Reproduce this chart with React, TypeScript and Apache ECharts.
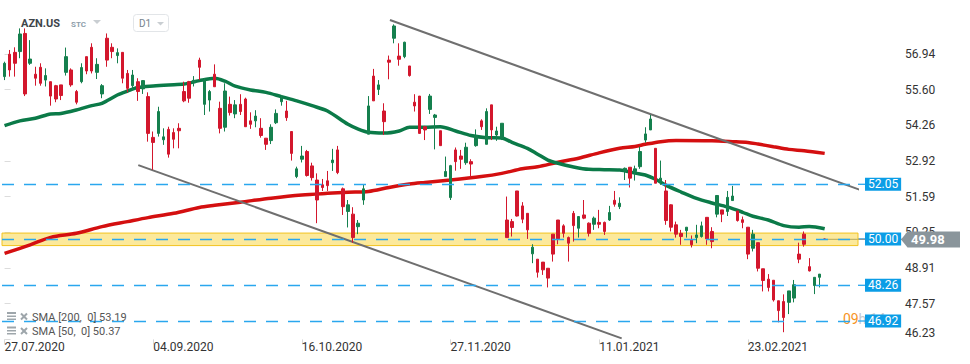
import React, { useEffect, useRef } from 'react';
import * as echarts from 'echarts';

// ---------- data ----------
const HOLIDAYS = ['2020-09-07', '2020-11-26', '2020-12-25', '2021-01-01', '2021-01-18', '2021-02-15'];
const BAR_SLOTS = 167;

const tickLabels = ['27.07.2020', '04.09.2020', '16.10.2020', '27.11.2020', '11.01.2021', '23.02.2021'];
const yTickValues = [46.23, 47.57, 48.91, 50.25, 51.59, 52.92, 54.26, 55.6, 56.94];

const opens = [
  56.09, 56.93, 57.0, 57.03, 57.71, 56.59, 56.18, 56.44, 55.96, 55.9,
  55.75, 55.78, 56.25, 56.34, 55.53, 55.9, 56.84, 57.19, 56.25, 55.44,
  57.53, 57.19, 56.88, 57.0, 56.21, 55.75, 55.9, 55.63, 55.34, 53.81,
  53.96, 53.72, 54.11, 53.99, 54.15, 55.53, 55.9, 55.86, 56.71, 55.05,
  55.21, 56.18, 54.9, 54.19, 55.05, 54.69, 55.05, 55.25, 54.43, 54.43,
  54.15, 53.78, 53.69, 54.36, 55.15, 54.8, 54.03, 52.34, 52.99, 53.28,
  52.74, 52.21, 52.03, 52.18, 52.86, 53.34, 51.88, 51.03, 50.93, 50.46,
  51.46, 53.93, 56.11, 55.61, 54.8, 56.71, 57.53, 56.86, 56.84, 56.49,
  55.13, 55.36, 54.21, 54.86, 54.56, 54.06, 52.34, 51.55, 53.34, 53.11,
  52.86, 52.9, 53.5, 54.43, 53.55, 55.03, 53.9, 53.78, 50.71, 50.65,
  51.8, 51.24, 50.96, 49.44, 49.24, 49.13, 48.9, 50.18, 50.71, 50.49,
  50.05, 50.96, 50.4, 50.9, 50.59, 50.55, 50.62, 50.62, 50.71, 51.45,
  51.21, 52.53, 52.69, 52.53, 52.71, 53.71, 54.09, 53.4, 52.15, 51.8,
  51.28, 50.53, 50.21, 50.31, 49.96, 50.05, 50.09, 50.81, 50.28, 50.93,
  51.09, 51.03, 51.44, 51.05, 50.72, 50.44, 49.65, 49.86, 48.88, 48.49,
  48.45, 47.68, 47.65, 47.62, 47.78, 49.43, 50.18, 48.96, 48.25, 48.56,
  50.0,
];
const closes = [
  56.59, 56.34, 56.59, 57.69, 55.44, 56.75, 56.03, 55.84, 56.13, 55.36,
  55.25, 55.38, 56.84, 55.78, 55.13, 56.43, 56.3, 56.3, 56.55, 55.75,
  56.71, 57.03, 56.99, 56.03, 55.65, 56.15, 55.53, 55.94, 53.96, 53.62,
  54.78, 53.83, 53.18, 53.74, 54.06, 55.18, 55.28, 55.95, 56.44, 55.96,
  55.53, 55.71, 54.15, 55.55, 54.74, 55.03, 54.78, 54.21, 54.3, 54.61,
  53.88, 53.55, 54.19, 54.71, 55.3, 54.55, 53.21, 52.63, 53.11, 52.38,
  52.3, 51.46, 51.93, 52.0, 52.96, 52.49, 51.21, 51.28, 50.05, 50.59,
  51.88, 54.99, 55.18, 55.78, 54.4, 56.63, 57.99, 56.74, 57.38, 56.13,
  54.99, 53.96, 54.09, 55.36, 54.65, 53.5, 52.53, 52.75, 52.9, 52.99,
  53.44, 52.81, 53.88, 54.21, 54.78, 54.09, 54.05, 54.34, 50.05, 50.43,
  50.86, 50.74, 50.34, 49.69, 48.75, 48.84, 48.53, 49.43, 50.0, 50.21,
  49.84, 50.5, 50.84, 50.78, 50.21, 50.78, 50.55, 50.28, 50.99, 51.3,
  51.34, 52.65, 52.28, 52.63, 53.28, 53.94, 54.5, 52.09, 52.28, 50.69,
  50.44, 50.18, 50.09, 50.44, 49.78, 50.15, 50.49, 50.0, 49.9, 51.63,
  50.93, 51.56, 51.61, 50.69, 50.62, 49.43, 50.18, 48.9, 48.44, 48.18,
  47.71, 47.31, 47.05, 48.05, 48.28, 49.24, 49.8, 48.8, 48.56, 48.68,
  49.98,
];
const lows = [
  55.96, 56.09, 56.09, 56.78, 55.36, 56.53, 55.75, 55.75, 55.72, 55.0,
  55.13, 55.21, 56.13, 55.71, 55.05, 55.84, 56.18, 56.21, 56.0, 55.28,
  56.46, 56.78, 56.59, 55.84, 55.5, 55.59, 55.18, 55.44, 53.65, 52.59,
  53.84, 53.53, 53.05, 53.4, 53.4, 55.13, 55.11, 55.72, 55.96, 54.65,
  54.78, 55.71, 53.96, 54.03, 54.63, 54.53, 54.65, 54.21, 54.13, 54.19,
  53.8, 53.34, 53.56, 54.31, 55.0, 54.43, 52.94, 52.28, 52.87, 52.34,
  52.19, 50.59, 51.8, 51.8, 52.55, 52.43, 50.9, 50.43, 49.86, 50.18,
  51.28, 53.93, 55.18, 55.4, 53.9, 55.99, 57.34, 56.5, 56.78, 56.09,
  54.78, 53.94, 53.71, 54.69, 53.36, 53.5, 52.34, 51.46, 52.56, 52.63,
  52.78, 52.31, 53.46, 54.09, 53.55, 53.71, 53.68, 53.71, 50.05, 50.09,
  50.84, 50.59, 50.0, 49.09, 48.55, 48.65, 48.18, 49.15, 49.8, 50.05,
  49.15, 49.9, 50.05, 50.74, 50.09, 50.34, 50.4, 50.15, 50.68, 51.21,
  51.12, 52.21, 51.93, 52.19, 52.63, 53.61, 54.09, 52.09, 52.03, 50.53,
  50.28, 50.05, 49.78, 50.05, 49.68, 49.84, 50.05, 49.78, 49.65, 50.81,
  50.63, 50.86, 51.44, 50.65, 50.4, 49.24, 49.53, 48.78, 48.03, 48.03,
  47.65, 46.87, 46.5, 47.18, 47.62, 49.09, 49.71, 48.78, 47.93, 48.18,
  49.96,
];
const highs = [
  56.65, 57.09, 57.19, 57.9, 57.9, 57.46, 56.46, 56.59, 56.4, 55.9,
  55.78, 55.78, 57.18, 56.4, 55.59, 56.59, 56.84, 57.34, 56.78, 55.81,
  57.71, 57.34, 57.15, 57.0, 56.34, 56.34, 56.03, 55.96, 55.5, 54.03,
  54.96, 54.15, 54.21, 54.15, 54.34, 55.9, 55.93, 56.11, 56.8, 56.03,
  55.59, 56.55, 55.15, 55.84, 55.34, 55.21, 55.43, 55.3, 54.75, 54.83,
  54.53, 53.78, 54.3, 54.86, 55.4, 55.18, 54.03, 52.71, 53.49, 53.34,
  52.86, 52.46, 52.25, 52.55, 53.38, 53.49, 51.93, 51.46, 51.19, 50.71,
  52.05, 55.36, 56.38, 55.96, 55.09, 56.88, 58.05, 57.34, 57.4, 56.49,
  55.43, 55.36, 54.24, 55.44, 54.69, 54.06, 53.09, 52.78, 53.43, 53.34,
  53.61, 52.99, 54.11, 54.49, 54.9, 55.03, 54.21, 54.34, 51.59, 50.75,
  51.8, 51.38, 50.96, 49.8, 49.24, 49.13, 48.9, 50.18, 50.71, 50.55,
  50.09, 51.05, 50.86, 51.46, 50.62, 50.84, 51.09, 50.65, 51.24, 51.8,
  51.56, 52.68, 52.69, 52.75, 53.46, 54.19, 54.65, 53.4, 52.94, 52.21,
  51.3, 50.65, 50.34, 50.44, 50.13, 50.53, 50.65, 50.81, 50.44, 51.63,
  51.09, 51.8, 51.99, 51.05, 50.84, 50.44, 50.34, 49.86, 48.88, 48.68,
  48.45, 47.68, 47.92, 48.05, 48.46, 49.86, 50.28, 49.28, 48.56, 48.68,
  50.02,
];

// SMA readings (bar index, value)
const sma200Idx = [0, 5, 9, 14, 19, 24, 28, 33, 38, 41, 46, 52, 58, 63, 67, 71, 75, 79, 82, 87, 93, 97, 101, 104, 108, 112, 116, 120, 123, 125, 128, 131, 138, 142, 145, 147, 150, 153, 156, 160];
const sma200Val = [49.46, 49.78, 50.06, 50.21, 50.46, 50.65, 50.8, 50.96, 51.18, 51.26, 51.38, 51.53, 51.65, 51.71, 51.75, 51.78, 51.93, 52.06, 52.12, 52.21, 52.34, 52.46, 52.63, 52.71, 52.88, 53.03, 53.23, 53.4, 53.47, 53.55, 53.65, 53.69, 53.68, 53.65, 53.62, 53.56, 53.46, 53.36, 53.31, 53.21];
const sma50Idx = [0, 3, 6, 9, 11, 14, 17, 19, 22, 24, 26, 29, 32, 35, 38, 41, 43, 45, 48, 51, 54, 57, 60, 63, 67, 69, 71, 74, 77, 79, 82, 85, 88, 91, 94, 97, 99, 102, 104, 106, 108, 111, 114, 117, 120, 123, 125, 127, 129, 132, 135, 138, 141, 144, 146, 149, 152, 155, 157, 160];
const sma50Val = [54.25, 54.43, 54.53, 54.69, 54.71, 54.84, 55.0, 55.09, 55.4, 55.55, 55.68, 55.74, 55.78, 55.81, 55.94, 56.03, 55.92, 55.73, 55.59, 55.5, 55.34, 55.18, 55.0, 54.8, 54.3, 54.12, 54.0, 53.97, 54.05, 54.19, 54.19, 54.21, 54.05, 53.88, 53.8, 53.79, 53.62, 53.4, 53.18, 52.96, 52.84, 52.7, 52.61, 52.6, 52.59, 52.47, 52.4, 52.24, 52.02, 51.76, 51.52, 51.35, 51.2, 51.0, 50.85, 50.71, 50.5, 50.44, 50.47, 50.38];

// trend channel lines (bar index, price)
const upperTrendIdx = [75.19, 174.68];
const upperTrendVal = [58.215, 51.3];
const lowerTrendIdx = [26.09, 120.4];
const lowerTrendVal = [52.77, 46.27];

const levelValues = [52.05, 50.0, 48.26, 46.92];
const zoneLow = 49.75;
const zoneHigh = 50.22;
const lastPrice = 49.98;

const symbolName = 'AZN.US';
const symbolType = 'STC';
const timeframe = 'D1';
const smaLegend = ['SMA [200,\u00a0 0] 53.19', 'SMA [50,\u00a0 0] 50.37'];
const countdownMain = '09';
const countdownRest = 'h 14m';

// ---------- helpers ----------
const GREEN = '#15804e';
const RED = '#d3172d';

function buildDates(): string[] {
  const out: string[] = [];
  const d = new Date(Date.UTC(2020, 6, 27));
  while (out.length < BAR_SLOTS) {
    const dow = d.getUTCDay();
    const iso = d.toISOString().slice(0, 10);
    if (dow !== 0 && dow !== 6 && !HOLIDAYS.includes(iso)) {
      const [y, m, dd] = iso.split('-');
      out.push(`${dd}.${m}.${y}`);
    }
    d.setUTCDate(d.getUTCDate() + 1);
  }
  return out;
}

export default function App() {
  const ref = useRef<HTMLDivElement>(null);

  useEffect(() => {
    if (!ref.current) return;
    const chart = echarts.init(ref.current, null, { renderer: 'svg' });
    const dates = buildDates();
    const candleData = opens.map((o, i) => [o, closes[i], lows[i], highs[i]]);
    const xMaxVal = BAR_SLOTS - 0.5;
    const showTick = (_i: number, v: string) => tickLabels.includes(v);

    chart.setOption({
      animation: false,
      backgroundColor: '#ffffff',
      grid: { left: 2, top: 0, width: 856, height: 339.4, containLabel: false },
      xAxis: [
        {
          type: 'category',
          data: dates,
          boundaryGap: true,
          axisLine: { show: false },
          axisTick: { show: true, alignWithLabel: true, interval: showTick, length: 5, lineStyle: { color: '#d8d8d8' } },
          axisLabel: { interval: showTick, align: 'left', color: '#333', fontSize: 12, fontFamily: 'Roboto', margin: 2 },
          splitLine: { show: false },
        },
        { type: 'value', min: -0.5, max: xMaxVal, show: false },
      ],
      yAxis: {
        type: 'value',
        position: 'right',
        min: 46.23,
        max: 58.965,
        offset: 43,
        splitLine: { show: false },
        axisLine: { show: false },
        axisTick: { show: true, length: 6, customValues: yTickValues, lineStyle: { color: '#dcdcdc' } },
        axisLabel: {
          customValues: yTickValues,
          formatter: (v: number) => v.toFixed(2),
          color: '#333',
          fontSize: 12,
          fontFamily: 'Roboto',
          margin: 4,
          verticalAlignMinLabel: 'bottom',
        },
      },
      series: [
        {
          type: 'line',
          name: 'levels',
          xAxisIndex: 1,
          data: [],
          z: 1,
          silent: true,
          markLine: {
            symbol: ['none', 'none'],
            silent: true,
            animation: false,
            lineStyle: { color: '#2aa7ee', width: 1.3, type: [12, 10] },
            label: {
              show: true,
              position: 'end',
              distance: 7,
              color: '#ffffff',
              backgroundColor: '#0b9de6',
              fontSize: 12,
              fontFamily: 'Roboto',
              padding: [1, 3, 0, 3],
              lineHeight: 12,
            },
            data: levelValues.map((v) => [
              { xAxis: -0.5, yAxis: v, label: { formatter: v.toFixed(2) } },
              { xAxis: xMaxVal, yAxis: v },
            ]),
          },
        },
        {
          type: 'line',
          name: 'SMA200',
          xAxisIndex: 1,
          data: sma200Idx.map((x, i) => [x, sma200Val[i]]),
          showSymbol: false,
          symbol: 'none',
          smooth: 0.3,
          lineStyle: { color: '#d40f10', width: 3.5 },
          z: 2,
          silent: true,
        },
        {
          type: 'line',
          name: 'SMA50',
          xAxisIndex: 1,
          data: sma50Idx.map((x, i) => [x, sma50Val[i]]),
          showSymbol: false,
          symbol: 'none',
          smooth: 0.3,
          lineStyle: { color: '#0b7a48', width: 3.5 },
          z: 2,
          silent: true,
        },
        {
          type: 'candlestick',
          xAxisIndex: 0,
          data: candleData,
          barWidth: 3,
          itemStyle: { color: GREEN, color0: RED, borderColor: GREEN, borderColor0: RED, borderWidth: 1 },
          z: 3,
          silent: true,
        },
        {
          type: 'line',
          name: 'upperTrend',
          xAxisIndex: 1,
          data: upperTrendIdx.map((x, i) => [x, upperTrendVal[i]]),
          clip: false,
          symbol: 'none',
          lineStyle: { color: '#6f6f6f', width: 2 },
          z: 3,
          silent: true,
        },
        {
          type: 'line',
          name: 'lowerTrend',
          xAxisIndex: 1,
          data: lowerTrendIdx.map((x, i) => [x, lowerTrendVal[i]]),
          clip: false,
          symbol: 'none',
          lineStyle: { color: '#6f6f6f', width: 2 },
          z: 3,
          silent: true,
        },
        {
          type: 'line',
          name: 'zone',
          xAxisIndex: 1,
          data: [],
          z: 4,
          silent: true,
          markArea: {
            silent: true,
            itemStyle: { color: 'rgba(250, 212, 55, 0.5)', borderColor: '#f2c320', borderWidth: 1 },
            data: [[{ xAxis: -0.5, yAxis: zoneLow }, { xAxis: xMaxVal, yAxis: zoneHigh }]],
          },
        },
      ],
    });

    const yLast = chart.convertToPixel({ yAxisIndex: 0 }, lastPrice) as number;
    const xLast = chart.convertToPixel({ xAxisIndex: 1 }, opens.length - 1) as number;
    const yLevelLow = chart.convertToPixel({ yAxisIndex: 0 }, levelValues[3]) as number;
    const xGridEnd = chart.convertToPixel({ xAxisIndex: 1 }, xMaxVal) as number;
    const iconColor = '#9ea6ab';

    const legendRow = (text: string, cy: number) => [
      { type: 'rect', z: 10, shape: { x: 7, y: cy - 5, width: 9, height: 2 }, style: { fill: iconColor } },
      { type: 'rect', z: 10, shape: { x: 7, y: cy - 1.5, width: 9, height: 1.5 }, style: { fill: iconColor } },
      { type: 'rect', z: 10, shape: { x: 7, y: cy + 1.5, width: 9, height: 1.5 }, style: { fill: iconColor } },
      { type: 'line', z: 10, shape: { x1: 21, y1: cy - 3.5, x2: 27, y2: cy + 2.5 }, style: { stroke: iconColor, lineWidth: 2 } },
      { type: 'line', z: 10, shape: { x1: 27, y1: cy - 3.5, x2: 21, y2: cy + 2.5 }, style: { stroke: iconColor, lineWidth: 2 } },
      { type: 'text', z: 10, x: 32, y: cy, style: { text, fill: '#555', fontSize: 11, fontFamily: 'Roboto', verticalAlign: 'middle' } },
    ];

    // short dashed stubs that carry each level line on to its price label
    const levelStubs = levelValues.map((v) => {
      const y = chart.convertToPixel({ yAxisIndex: 0 }, v) as number;
      return { type: 'line', z: 0, shape: { x1: xGridEnd, y1: y, x2: xGridEnd + 8, y2: y }, style: { stroke: '#2aa7ee', lineWidth: 1.3 } };
    });

    chart.setOption({
      graphic: [
        // header
        { type: 'text', z: 10, x: 21, y: 23.5, style: { text: symbolName, fill: '#3e454a', fontSize: 11, fontWeight: 'bold', fontFamily: 'Roboto', verticalAlign: 'middle' } },
        { type: 'text', z: 10, x: 71, y: 24.5, style: { text: symbolType, fill: '#8e9eab', fontSize: 8, fontWeight: 'bold', fontFamily: 'Roboto', verticalAlign: 'middle' } },
        { type: 'polygon', z: 10, shape: { points: [[93, 20], [101, 20], [97, 24]] }, style: { fill: '#c9ced2' } },
        { type: 'rect', z: 10, shape: { x: 133.5, y: 14.5, width: 35, height: 17, r: 3 }, style: { fill: '#ffffff', stroke: '#e2e5e8', lineWidth: 1 } },
        { type: 'text', z: 11, x: 139, y: 23.5, style: { text: timeframe, fill: '#76838d', fontSize: 10, fontFamily: 'Roboto', verticalAlign: 'middle' } },
        { type: 'polygon', z: 11, shape: { points: [[157, 22], [164, 22], [160.5, 25.5]] }, style: { fill: '#c9ced2' } },
        // legend
        ...legendRow(smaLegend[0], 317),
        ...legendRow(smaLegend[1], 331.5),
        // countdown (partly hidden by the level label)
        { type: 'text', z: 0, x: 843, y: yLevelLow - 2, style: { text: countdownMain, fill: '#f7931e', fontSize: 14, fontFamily: 'Roboto', verticalAlign: 'middle' } },
        { type: 'text', z: 0, x: 858.5, y: yLevelLow - 2, style: { text: countdownRest, fill: '#c5c9cd', fontSize: 14, fontFamily: 'Roboto', verticalAlign: 'middle' } },
        ...levelStubs,
        // current price line + arrow label
        { type: 'line', z: 0, shape: { x1: xLast, y1: yLast, x2: 902, y2: yLast }, style: { stroke: '#8b969c', lineWidth: 1.2 } },
        {
          type: 'polygon',
          z: 100,
          shape: { points: [[901, yLast], [907.5, yLast - 8], [960, yLast - 8], [960, yLast + 8], [907.5, yLast + 8]] },
          style: { fill: '#8a959b' },
        },
        { type: 'text', z: 101, x: 911, y: yLast + 0.5, style: { text: lastPrice.toFixed(2), fill: '#ffffff', fontSize: 13, fontWeight: 'bold', fontFamily: 'Roboto', verticalAlign: 'middle' } },
      ],
    });

    return () => chart.dispose();
  }, []);

  return (
    <div
      ref={ref}
      style={{ position: 'fixed', left: 0, top: 0, width: 970, height: 364, background: '#ffffff' }}
    />
  );
}
